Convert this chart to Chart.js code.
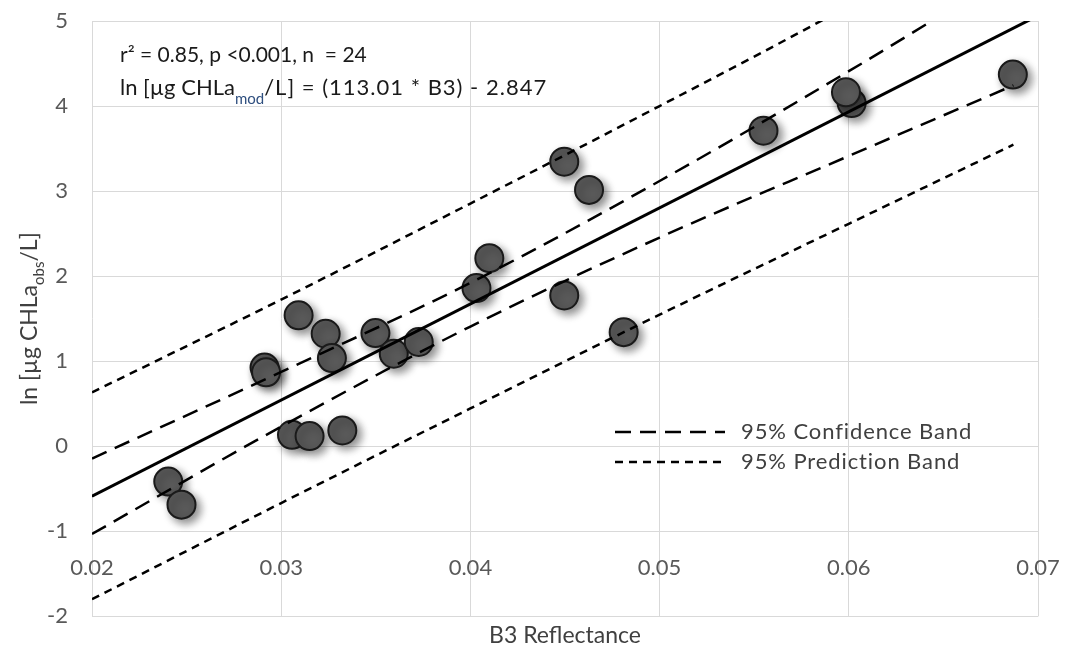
<!DOCTYPE html>
<html>
<head>
<meta charset="utf-8">
<script src="https://cdn.jsdelivr.net/npm/chart.js@4.4.1/dist/chart.umd.min.js"></script>
<style>
  html, body { margin: 0; padding: 0; background: #ffffff; }
  #wrap { width: 1079px; height: 655px; }
</style>
</head>
<body>
<div id="wrap"><canvas id="c" width="1079" height="655"></canvas></div>
<script>
// ---- Data ----
const obsX = [0.02403, 0.02473, 0.02912, 0.02920, 0.03092, 0.03235, 0.03268, 0.03057, 0.03150, 0.03323,
              0.03498, 0.03595, 0.03727, 0.04032, 0.04100, 0.04496, 0.04627, 0.04496, 0.04810, 0.05549,
              0.06015, 0.05985, 0.06867];
const obsY = [-0.415, -0.686, 0.925, 0.870, 1.540, 1.323, 1.037, 0.135, 0.120, 0.186,
              1.331, 1.088, 1.226, 1.860, 2.212, 3.346, 3.014, 1.773, 1.342, 3.710,
              4.035, 4.162, 4.370];

const fitX = [0.02, 0.07];
const fitY = [-0.587, 5.063];

const bandX     = [0.02,   0.03,   0.04,  0.05,  0.06,  0.0687];
const upperConf = [-0.144, 0.874,  1.922, 3.119, 4.410, 5.590];
const lowerConf = [-1.031, 0.231,  1.408, 2.454, 3.413, 4.243];
const upperPred = [0.634,  1.725,  2.854, 4.000, 5.180, 6.290];
const lowerPred = [-1.798, -0.667, 0.445, 1.548, 2.616, 3.546];

const xTicks = [0.02, 0.03, 0.04, 0.05, 0.06, 0.07];
const yTicks = [-2, -1, 0, 1, 2, 3, 4, 5];

const statsText = 'r² = 0.85, p <0.001, n  = 24';
const eqParts = ['ln [µg CHLa', 'mod', '/L] = (113.01 * B3) - 2.847'];
const yTitleParts = ['ln [µg CHLa', 'obs', '/L]'];
const xTitle = 'B3 Reflectance';
const legendLabels = ['95% Confidence Band', '95% Prediction Band'];

// ---- Styles ----
const FONT = 'Lato, "Open Sans", sans-serif';
const confDash = [16, 9];
const predDash = [8, 6];

const pts = (xs, ys) => xs.map((x, i) => ({ x: x, y: ys[i] }));

const shadowPlugin = {
  id: 'pointShadow',
  beforeDatasetDraw(chart, args) {
    if (args.index !== 0) return;
    const ctx = chart.ctx;
    ctx.save();
    ctx.shadowColor = 'rgba(0,0,0,0.45)';
    ctx.shadowBlur = 8;
    ctx.shadowOffsetX = 4;
    ctx.shadowOffsetY = 4;
  },
  afterDatasetDraw(chart, args) {
    if (args.index !== 0) return;
    chart.ctx.restore();
  }
};

function drawParts(ctx, parts, x, y, big, small, subShift, colors, spacing) {
  let cx = x;
  parts.forEach((p, i) => {
    const isSub = i === 1;
    ctx.font = (isSub ? small : big) + 'px ' + FONT;
    ctx.fillStyle = colors[i];
    ctx.letterSpacing = (spacing && i === 2) ? spacing : '0px';
    ctx.fillText(p, cx, isSub ? y + subShift : y);
    cx += ctx.measureText(p).width;
  });
  ctx.letterSpacing = '0px';
  return cx - x;
}
function measureParts(ctx, parts, big, small) {
  let w = 0;
  parts.forEach((p, i) => {
    ctx.font = (i === 1 ? small : big) + 'px ' + FONT;
    w += ctx.measureText(p).width;
  });
  return w;
}

const textPlugin = {
  id: 'texts',
  afterDraw(chart) {
    const ctx = chart.ctx;
    const a = chart.chartArea;
    ctx.save();
    ctx.textBaseline = 'middle';
    ctx.textAlign = 'left';
    // stats annotation
    ctx.font = '21px ' + FONT;
    ctx.fillStyle = '#1a1a1a';
    ctx.fillText(statsText, a.left + 28, a.top + 34);
    drawParts(ctx, eqParts, a.left + 28, a.top + 67, 22, 15, 11, ['#1a1a1a', '#2f4f7f', '#1a1a1a'], '1px');

    // y axis title (rotated)
    const w = measureParts(ctx, yTitleParts, 23, 15);
    ctx.save();
    ctx.translate(30, (a.top + a.bottom) / 2);
    ctx.rotate(-Math.PI / 2);
    drawParts(ctx, yTitleParts, -w / 2, 0, 23, 15, 9, ['#404040', '#404040', '#404040']);
    ctx.restore();

    // legend
    const lx0 = a.left + 523, lx1 = a.left + 633, tx = a.left + 649;
    const rows = [[a.top + 411, confDash, legendLabels[0]], [a.top + 441, predDash, legendLabels[1]]];
    rows.forEach(r => {
      ctx.save();
      ctx.strokeStyle = '#000000';
      ctx.lineWidth = 2.5;
      ctx.setLineDash(r[1]);
      ctx.beginPath();
      ctx.moveTo(lx0, r[0]);
      ctx.lineTo(lx1, r[0]);
      ctx.stroke();
      ctx.restore();
      ctx.font = '22px ' + FONT;
      ctx.fillStyle = '#404040';
      ctx.letterSpacing = '0.9px';
      ctx.fillText(r[2], tx, r[0]);
      ctx.letterSpacing = '0px';
    });
    ctx.restore();
  }
};

const lineDs = (label, xs, ys, dash, width) => ({
  type: 'line',
  label: label,
  data: pts(xs, ys),
  borderColor: '#000000',
  borderWidth: width,
  borderDash: dash,
  pointRadius: 0,
  fill: false,
  cubicInterpolationMode: 'monotone',
  order: 0
});

new Chart(document.getElementById('c'), {
  type: 'scatter',
  data: {
    datasets: [
      {
        label: 'Observed',
        data: pts(obsX, obsY),
        pointRadius: 14,
        pointHoverRadius: 14,
        backgroundColor: '#595959',
        borderColor: '#1a1a1a',
        borderWidth: 2,
        order: 10
      },
      lineDs('Fit', fitX, fitY, [], 3),
      lineDs('Upper confidence', bandX, upperConf, confDash, 2.5),
      lineDs('Lower confidence', bandX, lowerConf, confDash, 2.5),
      lineDs('Upper prediction', bandX, upperPred, predDash, 2.5),
      lineDs('Lower prediction', bandX, lowerPred, predDash, 2.5)
    ]
  },
  options: {
    responsive: false,
    animation: false,
    events: [],
    layout: { padding: { left: 32, right: 41, top: 21, bottom: 2 } },
    plugins: {
      legend: { display: false },
      tooltip: { enabled: false },
      title: {
        display: true,
        position: 'bottom',
        fullSize: false,
        text: xTitle,
        color: '#404040',
        font: { family: FONT, size: 23, weight: 'normal' },
        padding: { top: 5, bottom: 4 }
      }
    },
    scales: {
      x: {
        type: 'linear',
        position: { y: -1 },
        min: xTicks[0],
        max: xTicks[xTicks.length - 1],
        afterBuildTicks: s => { s.ticks = xTicks.map(v => ({ value: v })); },
        afterFit: s => { s.height = 0; s.paddingTop = 0; s.paddingBottom = 0; s.paddingLeft = 0; s.paddingRight = 0; },
        ticks: {
          color: '#595959',
          font: { family: FONT, size: 22 },
          padding: 23,
          maxRotation: 0,
          callback: v => String(v)
        },
        grid: { color: '#d9d9d9', lineWidth: 1, drawTicks: false },
        border: { display: false }
      },
      y: {
        type: 'linear',
        min: yTicks[0],
        max: yTicks[yTicks.length - 1],
        afterBuildTicks: s => { s.ticks = yTicks.map(v => ({ value: v })); },
        afterFit: s => { s.width = 60; s.paddingTop = 13; s.paddingBottom = 13; },
        ticks: {
          color: '#595959',
          font: { family: FONT, size: 22 },
          padding: 24,
          callback: v => String(v)
        },
        grid: { color: '#d9d9d9', lineWidth: 1, drawTicks: false },
        border: { display: false }
      }
    }
  },
  plugins: [shadowPlugin, textPlugin]
});
</script>
</body>
</html>
